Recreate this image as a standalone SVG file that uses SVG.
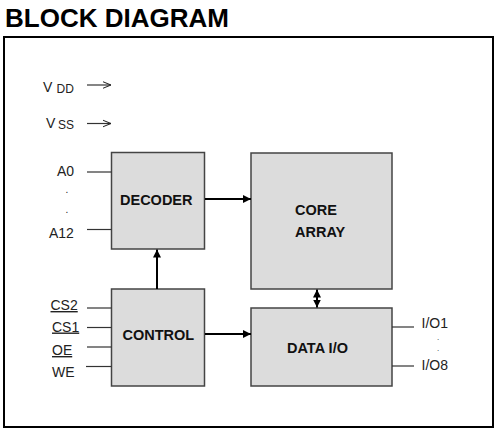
<svg xmlns="http://www.w3.org/2000/svg" width="499" height="431" viewBox="0 0 499 431">
<defs>
<style>
.title{font-family:"Liberation Sans",Arial,sans-serif;font-weight:bold;font-size:26px;fill:#000}
.lbl{font-family:"Liberation Sans",Arial,sans-serif;font-size:14px;fill:#222}
.dot{font-family:"Liberation Sans",Arial,sans-serif;font-size:10px;fill:#222}
.sdot{font-family:"Liberation Sans",Arial,sans-serif;font-size:8px;fill:#222}
.sub{font-family:"Liberation Sans",Arial,sans-serif;font-size:12px;fill:#222}
.bt{font-family:"Liberation Sans",Arial,sans-serif;font-weight:bold;font-size:14.5px;fill:#111}
.box{fill:#dcdcdc;stroke:#444;stroke-width:1.5}
.pin{stroke:#333;stroke-width:1.2;fill:none}
.bus{stroke:#000;stroke-width:2;fill:none}
.ul{text-decoration:underline}
</style>
<marker id="ah" viewBox="0 0 10 10" refX="10" refY="5" markerWidth="4" markerHeight="4" orient="auto-start-reverse" markerUnits="strokeWidth">
<path d="M0,0 L10,5 L0,10 z" fill="#000"/>
</marker>
<marker id="oa" viewBox="0 0 10 10" refX="10" refY="5" markerWidth="7" markerHeight="7" orient="auto" markerUnits="strokeWidth">
<path d="M0,1 L10,5 L0,9" fill="none" stroke="#222" stroke-width="1.2"/>
</marker>
</defs>
<rect width="499" height="431" fill="#fff"/>
<text class="title" x="5" y="27">BLOCK DIAGRAM</text>
<rect x="4" y="37" width="489" height="390" fill="none" stroke="#000" stroke-width="2"/>

<g id="vdd">
<text class="lbl" x="43" y="92">V</text><text class="sub" x="56.5" y="92.5">DD</text>
</g>
<g id="vss">
<text class="lbl" x="46" y="128">V</text><text class="sub" x="58" y="128.5">SS</text>
</g>

<g id="decoder">
<rect class="box" x="111.5" y="152.5" width="93" height="96.5"/>
<text class="bt" x="120" y="205">DECODER</text>
</g>
<g id="core-array">
<rect class="box" x="251" y="153" width="141" height="136"/>
<text class="bt" x="295" y="215">CORE</text>
<text class="bt" x="295" y="236.5">ARRAY</text>
</g>
<g id="control">
<rect class="box" x="111.5" y="289" width="93" height="97"/>
<text class="bt" x="122.5" y="340">CONTROL</text>
</g>
<g id="data-io">
<rect class="box" x="251" y="308" width="141" height="78"/>
<text class="bt" x="287" y="353">DATA I/O</text>
</g>

<g id="addr-labels">
<text class="lbl" x="57" y="176">A0</text>
<text class="dot" x="65.5" y="193">.</text>
<text class="dot" x="65.5" y="213">.</text>
<text class="lbl" x="49" y="237.5">A12</text>
</g>
<g id="ctrl-labels">
<text class="lbl ul" x="50.5" y="310">CS2</text>
<text class="lbl ul" x="52" y="331.5">CS1</text>
<text class="lbl ul" x="52" y="355">OE</text>
<text class="lbl" x="52" y="376.5">WE</text>
</g>
<g id="io-labels">
<text class="lbl" x="421.5" y="328">I/O1</text>
<text class="sdot" x="437" y="340">.</text>
<text class="sdot" x="437" y="350.5">.</text>
<text class="lbl" x="421.5" y="370">I/O8</text>
</g>

<g id="connectors">
<line class="pin" x1="87" y1="85" x2="111" y2="85" marker-end="url(#oa)"/>
<line class="pin" x1="87" y1="123.5" x2="111" y2="123.5" marker-end="url(#oa)"/>
<line class="pin" x1="87" y1="172" x2="111.5" y2="172"/>
<line class="pin" x1="87" y1="229.5" x2="111.5" y2="229.5"/>
<line class="pin" x1="87" y1="308" x2="111.5" y2="308"/>
<line class="pin" x1="87" y1="327.5" x2="111.5" y2="327.5"/>
<line class="pin" x1="87" y1="347" x2="111.5" y2="347"/>
<line class="pin" x1="86" y1="366.5" x2="111.5" y2="366.5"/>
<line class="pin" x1="392" y1="327" x2="414" y2="327"/>
<line class="pin" x1="392" y1="366" x2="414" y2="366"/>
<line class="bus" x1="205" y1="199" x2="251" y2="199" marker-end="url(#ah)"/>
<line class="bus" x1="205" y1="334" x2="251" y2="334" marker-end="url(#ah)"/>
<line class="bus" x1="157" y1="289" x2="157" y2="249.5" marker-end="url(#ah)"/>
<line class="bus" x1="317" y1="289.5" x2="317" y2="307.5" marker-start="url(#ah)" marker-end="url(#ah)"/>
</g>
</svg>
